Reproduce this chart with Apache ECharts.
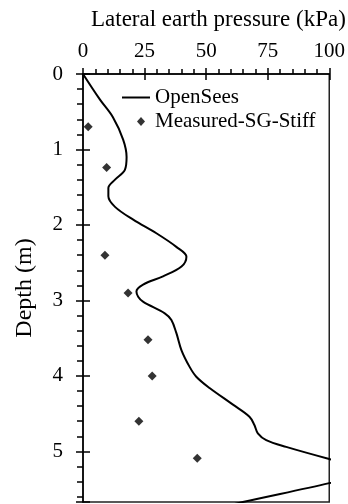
<!DOCTYPE html>
<html>
<head>
<meta charset="utf-8">
<script src="https://cdn.jsdelivr.net/npm/echarts@6/dist/echarts.min.js"></script>
<style>
  html, body { margin: 0; padding: 0; background: #fff; }
  #chart { width: 348px; height: 504px; }
</style>
</head>
<body>
<div id="chart"></div>
<script>
// OpenSees curve
const simDepth = [0, 0.34, 0.57, 0.87, 1.10, 1.27, 1.40, 1.51, 1.62, 1.76, 1.93, 2.11, 2.29, 2.42, 2.55, 2.68, 2.79, 2.88, 2.95, 3.02, 3.17, 3.26, 3.43, 3.66, 3.88, 4.01, 4.16, 4.38, 4.54, 4.65, 4.76, 4.85, 4.94, 5.10, 5.18, 5.26, 5.34, 5.42, 5.67, 5.75];
const simPressure = [0, 6.9, 12.1, 16.3, 17.7, 17, 13, 10.3, 10.3, 13, 20.4, 29.8, 37.9, 42, 40, 32.5, 24.4, 21.7, 22.4, 24.5, 33.2, 35.9, 37.9, 40, 43.3, 46, 51.4, 60.9, 67.6, 69.6, 71, 74.4, 82.5, 100, 110, 114, 108, 100, 64.9, 55];

// Measured-SG-Stiff points
const measDepth = [0.70, 1.24, 2.40, 2.90, 3.52, 4.00, 4.60, 5.09];
const measPressure = [2.1, 9.6, 8.9, 18.3, 26.4, 28.1, 22.7, 46.4];

const xTicks = [0, 25, 50, 75, 100];
const yTicks = [0, 1, 2, 3, 4, 5];

const font = "Liberation Serif";
const chart = echarts.init(document.getElementById("chart"));

const simData = simDepth.map((d, i) => [simPressure[i], d]);
const measData = measDepth.map((d, i) => [measPressure[i], d]);

const legendText = { fontFamily: font, fontSize: 21, color: "#000" };

chart.setOption({
  animation: false,
  title: {
    text: "Lateral earth pressure (kPa)",
    left: 86,
    top: 3,
    textStyle: { fontFamily: font, fontSize: 23, fontWeight: "normal", color: "#000" },
  },
  grid: {
    left: 83, top: 74, right: 18, bottom: 2,
    show: true, borderColor: "#222", borderWidth: 1.5,
  },
  legend: [
    {
      left: 117, top: 82,
      itemWidth: 28, itemHeight: 2,
      textStyle: legendText,
      data: [{ name: "OpenSees", icon: "rect" }],
    },
    {
      left: 132, top: 106,
      itemWidth: 8, itemHeight: 9,
      textStyle: { ...legendText, padding: [0, 0, 0, 5] },
      data: [{ name: "Measured-SG-Stiff", icon: "diamond" }],
    },
  ],
  xAxis: [
    {
      type: "value", position: "top", min: 0, max: 100, interval: 25,
      axisLine: { show: true, lineStyle: { color: "#000", width: 1.5 } },
      axisTick: { show: true, inside: false, length: 6, lineStyle: { color: "#000", width: 1.5 } },
      minorTick: { show: true, splitNumber: 5, length: 5, lineStyle: { color: "#000", width: 1.5 } },
      splitLine: { show: false },
      axisLabel: {
        margin: 12, fontFamily: font, fontSize: 21, color: "#000",
        formatter: (v) => (xTicks.includes(v) ? String(v) : ""),
      },
    },
    {
      type: "value", position: "top", min: 0, max: 100, interval: 25,
      axisLine: { show: false },
      axisTick: { show: true, inside: true, length: 6, lineStyle: { color: "#000", width: 1.5 } },
      splitLine: { show: false },
      axisLabel: { show: false },
    },
  ],
  yAxis: [
    {
      type: "value", inverse: true, min: 0, max: 5.67, interval: 1,
      name: "Depth (m)", nameLocation: "middle", nameGap: 46,
      nameTextStyle: { fontFamily: font, fontSize: 24, color: "#000" },
      axisLine: { show: true, lineStyle: { color: "#000", width: 1.5 } },
      axisTick: { show: true, inside: false, length: 7, lineStyle: { color: "#000", width: 1.5 } },
      minorTick: { show: true, splitNumber: 5, length: 6, lineStyle: { color: "#000", width: 1.5 } },
      splitLine: { show: false },
      axisLabel: {
        margin: 20, fontFamily: font, fontSize: 21, color: "#000",
        showMaxLabel: false,
        formatter: (v) => (yTicks.includes(v) ? String(v) : ""),
      },
    },
    {
      type: "value", position: "left", inverse: true, min: 0, max: 5.67, interval: 1,
      axisLine: { show: false },
      axisTick: { show: true, inside: true, length: 7, lineStyle: { color: "#000", width: 1.5 } },
      splitLine: { show: false },
      axisLabel: { show: false },
    },
  ],
  series: [
    {
      name: "OpenSees",
      type: "line",
      data: simData,
      smooth: 0.35,
      symbol: "none",
      clip: true,
      lineStyle: { color: "#000", width: 2 },
      itemStyle: { color: "#000" },
    },
    {
      name: "Measured-SG-Stiff",
      type: "scatter",
      data: measData,
      symbol: "diamond",
      symbolSize: 9,
      itemStyle: { color: "#000" },
    },
  ],
});
</script>
</body>
</html>
